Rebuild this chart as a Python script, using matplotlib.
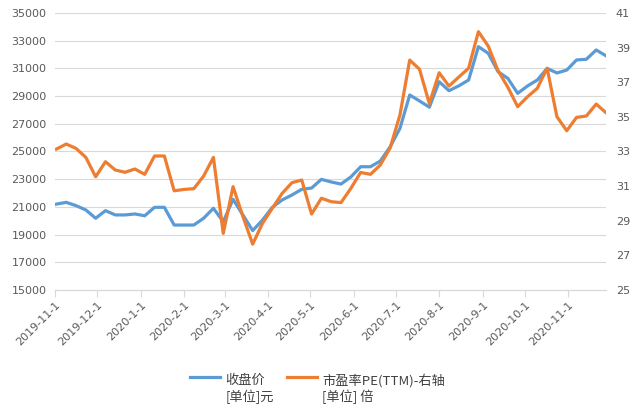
import matplotlib
matplotlib.use("Agg")
import matplotlib.pyplot as plt
import matplotlib.dates as mdates
from matplotlib.ticker import FuncFormatter
from matplotlib.legend_handler import HandlerLine2D
import numpy as np
import pandas as pd

# --- data (weekly) ---
dates = pd.date_range("2019-11-02", periods=57, freq="7D")

close_price = [
    21200, 21330, 21090, 20780, 20180, 20730, 20420, 20420, 20490, 20360,
    20970, 20970, 19690, 19690, 19690, 20180, 20900, 19930, 21550, 20420,
    19290, 20050, 20970, 21500, 21860, 22270, 22360, 22990, 22800, 22650,
    23160, 23900, 23900, 24310, 25330, 26660, 29080, 28650, 28200, 30040,
    29390, 29740, 30160, 32570, 32090, 30760, 30280, 29200, 29730, 30160,
    31000, 30670, 30880, 31610, 31660, 32330, 31910,
]

pe_ttm = [
    33.14, 33.43, 33.18, 32.66, 31.54, 32.41, 31.93, 31.80, 31.99, 31.68,
    32.74, 32.74, 30.73, 30.81, 30.85, 31.58, 32.66, 28.27, 30.97, 29.25,
    27.65, 28.85, 29.72, 30.58, 31.20, 31.35, 29.39, 30.30, 30.10, 30.05,
    30.87, 31.79, 31.68, 32.22, 33.20, 35.10, 38.28, 37.75, 35.77, 37.55,
    36.78, 37.30, 37.81, 39.92, 39.09, 37.67, 36.71, 35.59, 36.16, 36.65,
    37.81, 35.01, 34.20, 34.97, 35.05, 35.74, 35.24,
]

left_ticks = list(range(15000, 35001, 2000))
right_ticks = list(range(25, 42, 2))

label_close = "收盘价\n[单位]元"
label_pe = "市盈率PE(TTM)-右轴\n[单位] 倍"

blue = "#5B9BD5"
orange = "#ED7D31"
grey_txt = "#595959"
grid_c = "#D9D9D9"

plt.rcParams["font.family"] = ["DejaVu Sans", "Noto Sans CJK SC"]


class TopLineHandler(HandlerLine2D):
    # put the legend key next to the first line of a two-line label
    def create_artists(self, legend, orig_handle, xdescent, ydescent,
                       width, height, fontsize, trans):
        arts = super().create_artists(legend, orig_handle, xdescent, ydescent,
                                      width, height, fontsize, trans)
        for a in arts:
            a.set_ydata(np.asarray(a.get_ydata()) + 0.95 * fontsize)
        return arts


fig = plt.figure(figsize=(6.4, 4.16), dpi=100)
ax = fig.add_axes([55 / 640, 1 - 290 / 416, (606 - 55) / 640, (290 - 13) / 416])
ax2 = ax.twinx()

l1, = ax.plot(dates, close_price, color=blue, lw=2.3, label=label_close, zorder=3)
l2, = ax2.plot(dates, pe_ttm, color=orange, lw=2.3, label=label_pe, zorder=3)

ax.set_ylim(15000, 35000)
ax.set_yticks(left_ticks)
ax2.set_ylim(25, 41)
ax2.set_yticks(right_ticks)
ax.set_xlim(pd.Timestamp("2019-11-01"), pd.Timestamp("2020-11-28"))

ax.xaxis.set_major_locator(mdates.MonthLocator())
ax.xaxis.set_major_formatter(
    FuncFormatter(lambda v, p: "{0}-{1}-1".format(mdates.num2date(v).year,
                                                   mdates.num2date(v).month))
)

ax.grid(axis="y", color=grid_c, lw=0.8, zorder=0)
ax.set_axisbelow(True)

for a in (ax, ax2):
    for s in ("left", "right", "top"):
        a.spines[s].set_visible(False)
    a.spines["bottom"].set_color(grid_c)
    a.spines["bottom"].set_linewidth(0.8)

ax.tick_params(axis="y", length=0, pad=6, labelsize=8, labelcolor=grey_txt)
ax2.tick_params(axis="y", length=0, pad=7, labelsize=8, labelcolor=grey_txt)
ax.tick_params(axis="x", length=5, width=0.8, color=grid_c, pad=2,
               labelsize=8, labelcolor=grey_txt)
for lab in ax.get_xticklabels():
    lab.set_rotation(45)
    lab.set_ha("right")
    lab.set_va("top")
    lab.set_rotation_mode("anchor")

fig.legend(handles=[l1, l2], loc="upper center", bbox_to_anchor=(0.496, 0.13),
           ncol=2, frameon=False, handlelength=2.3, handletextpad=0.4,
           columnspacing=1.0, prop={"family": ["Noto Sans CJK SC"], "size": 9.5},
           labelcolor="#404040", handler_map={l1: TopLineHandler(), l2: TopLineHandler()})

fig.savefig("out.png", dpi=100, facecolor="white")
